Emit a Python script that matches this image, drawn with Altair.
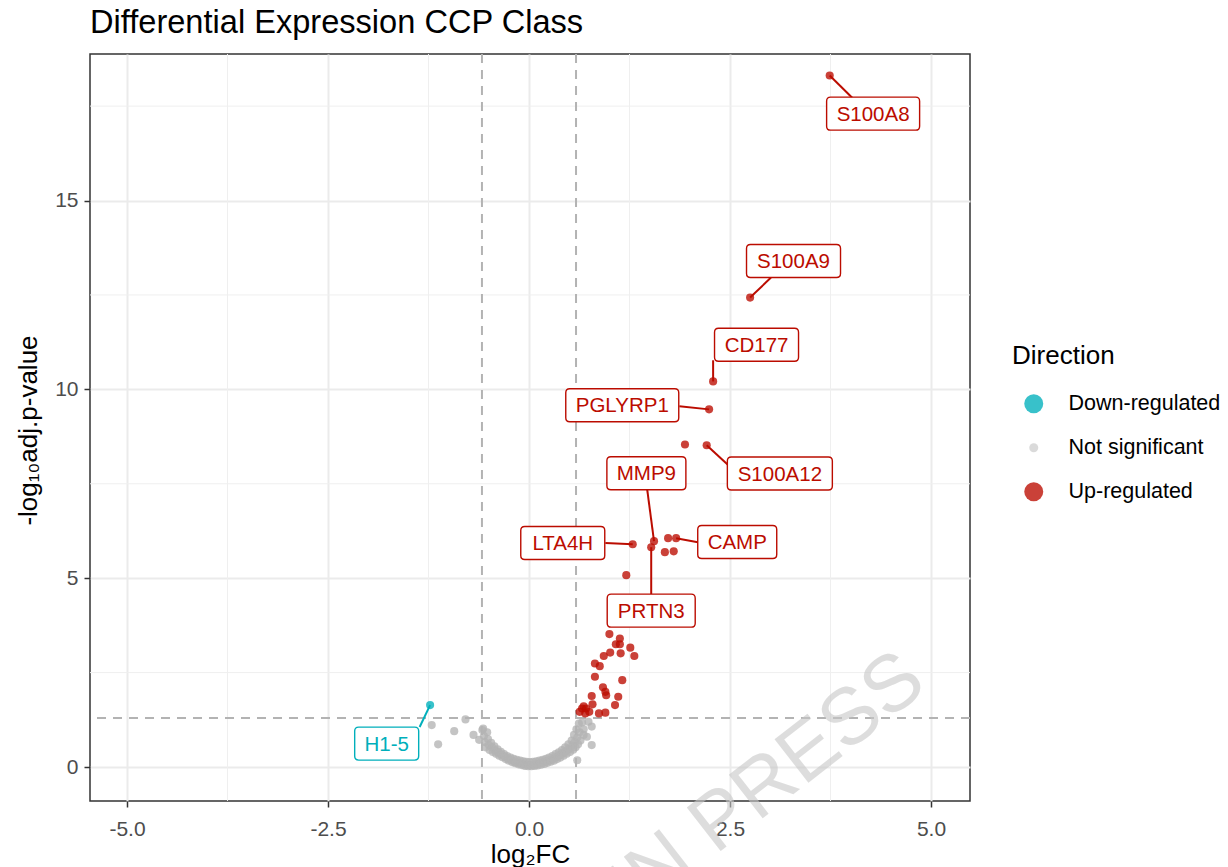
import altair as alt
import pandas as pd

# ---------------------------------------------------------------- data
# Up-regulated genes (log2FC, -log10 adj. p); "" = not labelled
up_gene = ["S100A8", "S100A9", "CD177", "PGLYRP1", "S100A12", "", "MMP9", "PRTN3",
           "LTA4H", "CAMP", "", "", "", "", "", "", "", "", "", "", "", "", "", "",
           "", "", "", "", "", "", "", "", "", "", "", "", "", "", "", "", "", ""]
up_x = [3.74, 2.75, 2.29, 2.24, 2.21, 1.94, 1.555, 1.52, 1.29, 1.83, 1.73, 1.69,
        1.80, 1.21, 1.00, 1.13, 1.08, 1.13, 1.01, 0.93, 1.14, 1.26, 1.31, 0.82,
        0.88, 0.82, 1.16, 0.92, 0.95, 0.96, 0.78, 1.11, 1.07, 0.79, 0.68, 0.66,
        0.71, 0.75, 0.87, 0.95, 0.63, 0.70]
up_y = [18.31, 12.43, 10.21, 9.47, 8.52, 8.54, 5.98, 5.82, 5.90, 6.06, 6.06, 5.69,
        5.71, 5.08, 3.52, 3.40, 3.25, 3.25, 3.03, 2.94, 3.01, 3.16, 2.94, 2.74,
        2.67, 2.39, 2.30, 2.11, 1.99, 1.90, 1.88, 1.86, 1.64, 1.66, 1.61, 1.55,
        1.55, 1.46, 1.42, 1.44, 1.46, 1.42]

# Down-regulated genes
down_gene = ["H1-5"]
down_x = [-1.23]
down_y = [1.64]

# Not significant genes
ns_x = [-1.21, -1.13, -0.93, -0.79, -0.69, -0.62, -0.57,
        -0.58, -0.56, -0.55, -0.54, -0.52, -0.51, -0.50, -0.49, -0.47, -0.46,
        -0.45, -0.43, -0.42, -0.41, -0.39, -0.38, -0.37, -0.35, -0.34, -0.33,
        -0.31, -0.30, -0.29, -0.27, -0.26, -0.25, -0.23, -0.22, -0.21, -0.19,
        -0.18, -0.17, -0.15, -0.14, -0.13, -0.11, -0.10, -0.09, -0.07, -0.06,
        -0.05, -0.03, -0.02, -0.01, 0.01, 0.02, 0.03, 0.05, 0.06, 0.07, 0.09,
        0.10, 0.11, 0.13, 0.14, 0.15, 0.17, 0.18, 0.19, 0.21, 0.22, 0.23, 0.25,
        0.26, 0.27, 0.29, 0.30, 0.31, 0.33, 0.34, 0.35, 0.37, 0.38, 0.39, 0.41,
        0.42, 0.43, 0.45, 0.46, 0.47, 0.49, 0.50, 0.51, 0.53, 0.54, 0.55, 0.56,
        0.57, 0.58, 0.59, 0.60, 0.61, 0.62, 0.63, 0.64, 0.66, 0.68, 0.60, 0.68,
        0.72, 0.78, 0.78, 0.74]
ns_y = [1.11, 0.60, 0.95, 1.26, 0.85, 0.72, 1.02,
        0.98, 0.82, 0.66, 0.52, 0.92, 0.74, 0.58, 0.45, 0.64, 0.52,
        0.40, 0.55, 0.44, 0.35, 0.47, 0.38, 0.30, 0.40, 0.32, 0.26,
        0.34, 0.27, 0.21, 0.29, 0.22, 0.17, 0.25, 0.18, 0.13, 0.22,
        0.14, 0.10, 0.19, 0.11, 0.07, 0.17, 0.09, 0.05, 0.15, 0.07,
        0.03, 0.14, 0.06, 0.02, 0.13, 0.05, 0.02, 0.14, 0.06, 0.03, 0.15,
        0.08, 0.04, 0.17, 0.10, 0.06, 0.19, 0.12, 0.08, 0.22, 0.15, 0.11, 0.25,
        0.18, 0.14, 0.29, 0.22, 0.17, 0.34, 0.26, 0.21, 0.39, 0.31, 0.25, 0.45,
        0.36, 0.30, 0.52, 0.42, 0.35, 0.60, 0.49, 0.40, 0.70, 0.57, 0.46, 0.85,
        0.66, 0.52, 1.00, 0.78, 0.60, 1.15, 0.92, 0.70, 1.18, 1.00, 0.18, 0.85,
        0.80, 0.58, 1.07, 1.20]

# Repelled labels: box centre, box width (px) and where each leader meets its box
label_gene = ["S100A8", "S100A9", "CD177", "PGLYRP1", "S100A12", "MMP9", "CAMP",
              "LTA4H", "PRTN3", "H1-5"]
label_x = [4.28, 3.29, 2.83, 1.16, 3.12, 1.46, 2.59, 0.42, 1.52, -1.77]
label_y = [17.30, 13.40, 11.18, 9.58, 7.77, 7.78, 5.96, 5.93, 4.14, 0.62]
label_w = [93, 94, 84, 113, 105, 79, 79, 84, 88, 64]
leader_x = [4.02, 3.01, 2.29, 1.87, 2.48, 1.47, 2.10, 0.95, 1.52, -1.36]
leader_y = [17.72, 12.96, 10.77, 9.55, 7.99, 7.35, 5.95, 5.93, 4.58, 1.06]

# Axis ticks, minor grid and cut-offs
x_ticks = [-5.0, -2.5, 0.0, 2.5, 5.0]
y_ticks = [0, 5, 10, 15]
x_minor = [-3.75, -1.25, 1.25, 3.75]
y_minor = [2.5, 7.5, 12.5, 17.5]
fc_cut = [-0.585, 0.585]
p_cut = [1.301]

directions = ["Down-regulated", "Not significant", "Up-regulated"]
point_colors = {"Down-regulated": "#00AFBB", "Not significant": "#B4B4B4",
                "Up-regulated": "#BB0C00"}
legend_colors = ["#00AFBB", "#D0D0D0", "#BB0C00"]
legend_sizes = [361, 81, 361]

# ---------------------------------------------------------------- tables
pts = pd.concat([
    pd.DataFrame({"gene": "", "log2FC": ns_x, "nlp": ns_y,
                  "Direction": "Not significant"}),
    pd.DataFrame({"gene": up_gene, "log2FC": up_x, "nlp": up_y,
                  "Direction": "Up-regulated"}),
    pd.DataFrame({"gene": down_gene, "log2FC": down_x, "nlp": down_y,
                  "Direction": "Down-regulated"}),
], ignore_index=True)
pts["hex"] = pts["Direction"].map(point_colors)

lab = pd.DataFrame({"gene": label_gene, "lx": label_x, "ly": label_y, "w": label_w,
                    "ex": leader_x, "ey": leader_y})
lab = lab.merge(pts[pts["gene"] != ""], on="gene")


def rounded_box(w, h=33, r=4):
    """SVG path of a rounded rectangle centred on 0,0 (pixel units at size=4)."""
    a, b = w / 2, h / 2
    return (f"M{-a + r},{-b}L{a - r},{-b}Q{a},{-b} {a},{-b + r}L{a},{b - r}"
            f"Q{a},{b} {a - r},{b}L{-a + r},{b}Q{-a},{b} {-a},{b - r}"
            f"L{-a},{-b + r}Q{-a},{-b} {-a + r},{-b}Z")


box_paths = [rounded_box(w) for w in lab["w"]]

xs = alt.Scale(domain=[-5.46, 5.485], nice=False, zero=False)
ys = alt.Scale(domain=[-0.9, 18.88], nice=False, zero=False)

x_axis = alt.Axis(values=x_ticks, format=".1f", title="log₂FC",
                  labelExpr="replace(datum.label, '−', '-')",
                  titleBaseline="alphabetic", titleY=61, labelPadding=11)
y_axis = alt.Axis(values=y_ticks, format="d", title="-log₁₀adj.p-value",
                  titleBaseline="middle", titleX=-62, titleY=376, labelPadding=6)

# ---------------------------------------------------------------- layers
minor_v = alt.Chart(pd.DataFrame({"v": x_minor})).mark_rule(
    color="#EFEFEF", strokeWidth=1).encode(x=alt.X("v:Q", scale=xs, axis=x_axis))
minor_h = alt.Chart(pd.DataFrame({"v": y_minor})).mark_rule(
    color="#EFEFEF", strokeWidth=1).encode(y=alt.Y("v:Q", scale=ys, axis=y_axis))

cut_v = alt.Chart(pd.DataFrame({"v": fc_cut})).mark_rule(
    color="#B3B3B3", strokeWidth=2, strokeDash=[9, 7]).encode(x=alt.X("v:Q", scale=xs))
cut_h = alt.Chart(pd.DataFrame({"v": p_cut})).mark_rule(
    color="#B3B3B3", strokeWidth=2, strokeDash=[9, 7]).encode(y=alt.Y("v:Q", scale=ys))

points = alt.Chart(pts).mark_circle(size=66, opacity=0.78).encode(
    x=alt.X("log2FC:Q", scale=xs),
    y=alt.Y("nlp:Q", scale=ys),
    color=alt.Color("hex:N", scale=None),
)

# invisible layer that carries the Direction legend
legend_layer = alt.Chart(pts).mark_circle(opacity=0).encode(
    x=alt.X("log2FC:Q", scale=xs),
    y=alt.Y("nlp:Q", scale=ys),
    color=alt.Color("Direction:N",
                    scale=alt.Scale(domain=directions, range=legend_colors),
                    legend=alt.Legend(title="Direction", orient="none",
                                      legendX=922, legendY=289, padding=0,
                                      symbolOpacity=1, symbolStrokeWidth=0,
                                      symbolType="circle", symbolOffset=11,
                                      labelOffset=24, rowPadding=21,
                                      titlePadding=24, titleFontSize=26,
                                      titleFontWeight="normal", titleColor="black",
                                      labelFontSize=21.5, labelColor="black")),
    size=alt.Size("Direction:N",
                  scale=alt.Scale(type="ordinal", domain=directions,
                                  range=legend_sizes)),
)

segments = alt.Chart(lab).mark_rule(strokeWidth=2).encode(
    x=alt.X("log2FC:Q", scale=xs), y=alt.Y("nlp:Q", scale=ys),
    x2="ex:Q", y2="ey:Q",
    color=alt.Color("hex:N", scale=None),
)

boxes = alt.Chart(lab).mark_point(size=4, filled=True, fill="white", opacity=1,
                                  strokeWidth=1.4).encode(
    x=alt.X("lx:Q", scale=xs), y=alt.Y("ly:Q", scale=ys),
    shape=alt.Shape("gene:N", scale=alt.Scale(domain=list(lab["gene"]), range=box_paths),
                    legend=None),
    stroke=alt.Stroke("hex:N", scale=None),
)

texts = alt.Chart(lab).mark_text(fontSize=20.5, baseline="middle", align="center",
                                 dy=1).encode(
    x=alt.X("lx:Q", scale=xs), y=alt.Y("ly:Q", scale=ys),
    text="gene:N",
    color=alt.Color("hex:N", scale=None),
)

watermark = alt.Chart(pd.DataFrame({"t": ["IN PRESS"]})).mark_text(
    fontSize=80, angle=322, align="left", baseline="alphabetic",
    color="#C8C8C8", opacity=0.6).encode(
    x=alt.value(545), y=alt.value(864), text="t:N")

chart = alt.layer(
    minor_v, minor_h, cut_v, cut_h, points, legend_layer, segments, boxes, texts,
    watermark,
).properties(
    width=880, height=747,
    title=alt.TitleParams("Differential Expression CCP Class", anchor="start",
                          frame="group", fontSize=32.6, fontWeight="normal",
                          color="black", offset=13),
    autosize=alt.AutoSizeParams(type="none"),
    padding={"left": 90, "top": 54, "right": 258, "bottom": 66},
).configure(
    font="Liberation Sans",
).configure_view(
    stroke="#333333", strokeWidth=1.5,
).configure_axis(
    grid=True, gridColor="#EBEBEB", gridWidth=2, domain=False,
    tickColor="#333333", tickSize=6, tickWidth=1.5,
    labelColor="#4D4D4D", labelFontSize=21, titleFontSize=26,
    titleFontWeight="normal", titleColor="black",
)

chart.save("out.html", embed_options={"renderer": "svg", "actions": False})
